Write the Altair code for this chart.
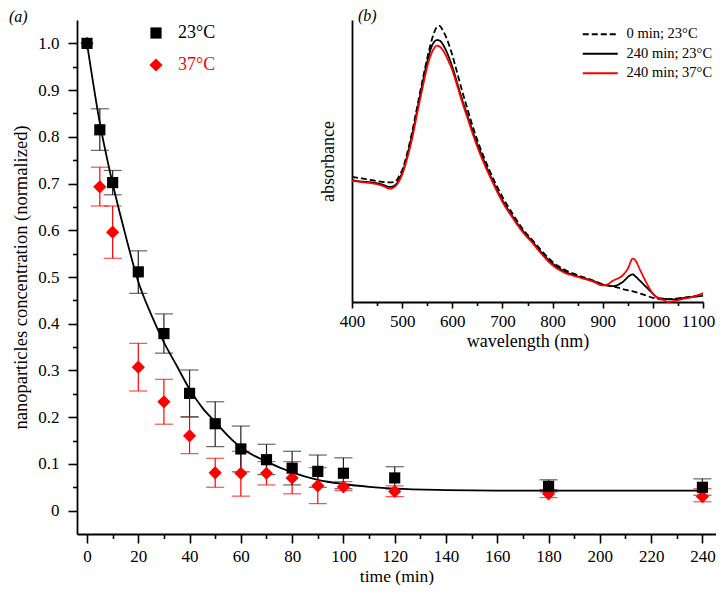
import altair as alt
import pandas as pd

# ---------------- panel (a) data ----------------
times = [0, 5, 10, 20, 30, 40, 50, 60, 70, 80, 90, 100, 120, 180, 240]
conc_23 = [1.0, 0.815, 0.702, 0.511, 0.379, 0.251, 0.186, 0.132, 0.109, 0.091, 0.084, 0.080, 0.070, 0.052, 0.050]
lo_23 = [1.0, 0.771, 0.676, 0.465, 0.337, 0.201, 0.137, 0.083, 0.077, 0.055, 0.050, 0.047, 0.046, 0.040, 0.033]
hi_23 = [1.0, 0.860, 0.728, 0.556, 0.421, 0.301, 0.233, 0.181, 0.142, 0.127, 0.119, 0.113, 0.094, 0.066, 0.068]
conc_37 = [1.0, 0.693, 0.596, 0.307, 0.233, 0.160, 0.081, 0.080, 0.080, 0.070, 0.053, 0.051, 0.041, 0.036, 0.030]
lo_37 = [1.0, 0.652, 0.540, 0.256, 0.185, 0.122, 0.050, 0.031, 0.055, 0.036, 0.015, 0.043, 0.030, 0.028, 0.019]
hi_37 = [1.0, 0.735, 0.652, 0.358, 0.281, 0.200, 0.112, 0.127, 0.105, 0.105, 0.092, 0.062, 0.053, 0.045, 0.047]
series_names = ["23°C", "37°C"]

fit_t = [0, 5, 10, 15, 20, 25, 30, 35, 40, 45, 50, 55, 60, 70, 80, 90, 100, 110, 120, 140, 160, 180, 200, 220, 240]
fit_y = [1.0, 0.83, 0.70, 0.59, 0.49, 0.42, 0.36, 0.31, 0.26, 0.22, 0.19, 0.16, 0.135, 0.105, 0.082, 0.066,
         0.057, 0.051, 0.047, 0.044, 0.043, 0.043, 0.043, 0.043, 0.043]

# ---------------- panel (b) data ----------------
wl_0_23 = [400, 420, 440, 460, 475, 485, 490, 495, 500, 510, 520, 530, 540, 550, 560, 570, 575, 580, 590, 600,
           610, 620, 630, 640, 650, 660, 680, 700, 720, 740, 760, 780, 800, 820, 850, 880, 900, 920, 940, 960,
           980, 1000, 1020, 1040, 1060, 1080, 1100]
abs_0_23 = [0.444, 0.438, 0.432, 0.426, 0.424, 0.426, 0.434, 0.450, 0.467, 0.527, 0.604, 0.692, 0.781, 0.864,
            0.935, 0.976, 0.979, 0.967, 0.929, 0.876, 0.811, 0.746, 0.686, 0.627, 0.574, 0.527, 0.444, 0.373,
            0.314, 0.260, 0.219, 0.178, 0.142, 0.118, 0.095, 0.077, 0.063, 0.056, 0.046, 0.038, 0.027, 0.015,
            0.009, 0.011, 0.015, 0.020, 0.025]
wl_240_23 = [400, 420, 440, 460, 475, 485, 490, 495, 500, 510, 520, 530, 540, 550, 560, 570, 575, 580, 590, 600,
             610, 620, 630, 640, 650, 660, 680, 700, 720, 740, 760, 780, 800, 820, 850, 880, 900, 920, 940, 955,
             960, 965, 980, 1000, 1010, 1020, 1040, 1060, 1080, 1100]
abs_240_23 = [0.432, 0.427, 0.424, 0.417, 0.408, 0.413, 0.422, 0.438, 0.458, 0.517, 0.592, 0.680, 0.769, 0.852,
              0.911, 0.929, 0.927, 0.917, 0.882, 0.834, 0.775, 0.716, 0.663, 0.609, 0.560, 0.515, 0.432, 0.361,
              0.304, 0.254, 0.213, 0.172, 0.136, 0.112, 0.091, 0.075, 0.062, 0.056, 0.071, 0.095, 0.098, 0.091,
              0.065, 0.030, 0.015, 0.012, 0.009, 0.014, 0.018, 0.022]
wl_240_37 = [400, 420, 440, 460, 475, 485, 490, 495, 500, 510, 520, 530, 540, 550, 560, 570, 575, 580, 590, 600,
             610, 620, 630, 640, 650, 660, 680, 700, 720, 740, 760, 780, 800, 820, 850, 880, 900, 910, 920, 940,
             950, 960, 965, 975, 990, 1000, 1010, 1020, 1030, 1040, 1060, 1080, 1100]
abs_240_37 = [0.430, 0.425, 0.421, 0.413, 0.402, 0.408, 0.418, 0.432, 0.452, 0.509, 0.580, 0.669, 0.754, 0.834,
              0.888, 0.909, 0.905, 0.896, 0.864, 0.822, 0.766, 0.707, 0.654, 0.600, 0.550, 0.505, 0.426, 0.355,
              0.299, 0.249, 0.209, 0.166, 0.130, 0.107, 0.089, 0.073, 0.059, 0.063, 0.075, 0.095, 0.118, 0.154,
              0.148, 0.112, 0.059, 0.030, 0.014, 0.008, 0.000, 0.002, 0.011, 0.018, 0.032]
spectra_names = ["0 min; 23°C", "240 min; 23°C", "240 min; 37°C"]

# ---------------- tables ----------------
pts = pd.concat([
    pd.DataFrame({"t": times, "c": conc_37, "lo": lo_37, "hi": hi_37, "temp": series_names[1]}),
    pd.DataFrame({"t": times, "c": conc_23, "lo": lo_23, "hi": hi_23, "temp": series_names[0]}),
], ignore_index=True)
err = pts[pts["t"] > 0]
fit = pd.DataFrame({"t": fit_t, "c": fit_y})
spec = pd.concat([
    pd.DataFrame({"wl": wl_0_23, "a": abs_0_23, "s": spectra_names[0]}),
    pd.DataFrame({"wl": wl_240_23, "a": abs_240_23, "s": spectra_names[1]}),
    pd.DataFrame({"wl": wl_240_37, "a": abs_240_37, "s": spectra_names[2]}),
], ignore_index=True)

W, H = 639, 514
FONT = "Liberation Serif"
xdom = [-3.9, 245.3]
ydom = [-0.05, 1.05]

def xs():
    return alt.Scale(domain=xdom, nice=False, zero=False)

def ys():
    return alt.Scale(domain=ydom, nice=False, zero=False)

AX = dict(labelFont=FONT, titleFont=FONT, grid=False, labelOverlap=False, labelFlush=False)

err_col = alt.Color("temp:N", scale=alt.Scale(domain=series_names, range=["#222222", "#ff0000"]), legend=None)

# error bar stems (carry the minor tick axes)
err_rule = alt.Chart(err).mark_rule(strokeWidth=1.2).encode(
    x=alt.X("t:Q", scale=xs(), axis=alt.Axis(orient="bottom", values=list(range(10, 240, 20)), labels=False,
                                           domain=False, tickSize=4.5, title=None, **AX)),
    y=alt.Y("lo:Q", scale=ys(), axis=alt.Axis(orient="left", values=[round(0.05 + 0.1 * i, 2) for i in range(10)],
                                            labels=False, domain=False, tickSize=4.5, title=None, **AX)),
    y2="hi:Q",
    color=err_col,
)

err_caps = alt.Chart(err).transform_fold(["lo", "hi"], as_=["k", "v"]).mark_tick(
    orient="horizontal", size=18, thickness=1.2
).encode(
    x=alt.X("t:Q", scale=xs(), axis=None),
    y=alt.Y("v:Q", scale=ys(), axis=None),
    color=err_col,
)

fit_line = alt.Chart(fit).mark_line(color="black", strokeWidth=1.8, interpolate="monotone").encode(
    x=alt.X("t:Q", scale=xs(), axis=None),
    y=alt.Y("c:Q", scale=ys(), axis=None),
)

leg_a = dict(title=None, orient="none", legendX=70, legendY=4, padding=0, labelFont=FONT,
             labelFontSize=18, rowPadding=14, labelOffset=13,
             labelColor={"expr": "datum.label == '37°C' ? '#ff0000' : 'black'"})

points = alt.Chart(pts).mark_point(filled=True, opacity=1).encode(
    x=alt.X("t:Q", scale=xs(), axis=alt.Axis(orient="bottom", values=list(range(0, 241, 20)), title="time (min)",
                                           tickSize=9, labelPadding=5, titlePadding=3, labelFontSize=17,
                                           titleFontSize=17.5, **AX)),
    y=alt.Y("c:Q", scale=ys(), axis=alt.Axis(orient="left", values=[round(0.1 * i, 1) for i in range(11)],
                                           labelExpr="datum.value == 0 ? '0' : format(datum.value, '.1f')",
                                           title="nanoparticles concentration (normalized)", titleFontSize=18.5,
                                           labelFontSize=17, tickSize=9, labelPadding=9, titlePadding=7, **AX)),
    color=alt.Color("temp:N", scale=alt.Scale(domain=series_names, range=["black", "#ff0000"]),
                    legend=alt.Legend(**leg_a)),
    shape=alt.Shape("temp:N", scale=alt.Scale(domain=series_names, range=["square", "diamond"]),
                    legend=alt.Legend(**leg_a)),
    size=alt.Size("temp:N", scale=alt.Scale(domain=series_names, range=[125, 175]), legend=None),
)

# inset panel (b): own scales mapped into a sub-rectangle of the plot
def ixs():
    return alt.Scale(domain=[400, 1100], range=[275, 626], nice=False, zero=False)

def iys():
    return alt.Scale(domain=[0, 1], range=[282, 0], nice=False, zero=False)

leg_b = dict(title=None, orient="none", legendX=516, legendY=7, padding=0, labelFont=FONT,
             labelFontSize=14.5, rowPadding=4.5, labelOffset=19,
             symbolType="M-3.5,0H3.5", symbolSize=100, symbolStrokeWidth=2)

spectra = alt.Chart(spec).mark_line(strokeWidth=1.8, interpolate="monotone").encode(
    x=alt.X("wl:Q", scale=ixs(), axis=alt.Axis(orient="bottom", offset=-232, values=list(range(400, 1101, 100)),
                                             format="d", title="wavelength (nm)", tickSize=6, labelPadding=5,
                                             titlePadding=3, labelFontSize=17, titleFontSize=18,
                                             labelOffset={"condition": {"test": "datum.value == 1100", "value": -5},
                                                          "value": 0},
                                             **AX)),
    y=alt.Y("a:Q", scale=iys(), axis=alt.Axis(orient="left", offset=-275, ticks=False, labels=False,
                                            title="absorbance", titlePadding=15, titleFontSize=18, **AX)),
    color=alt.Color("s:N", scale=alt.Scale(domain=spectra_names, range=["black", "black", "#ff0000"]),
                    legend=alt.Legend(**leg_b)),
    strokeDash=alt.StrokeDash("s:N", scale=alt.Scale(domain=spectra_names, range=[[6, 3], [1, 0], [1, 0]]),
                              legend=alt.Legend(**leg_b)),
)

spectra_minor = alt.Chart(spec).mark_point(opacity=0).encode(
    x=alt.X("wl:Q", scale=ixs(), axis=alt.Axis(orient="bottom", offset=-232, values=list(range(450, 1100, 100)),
                                             labels=False, domain=False, tickSize=3.5, title=None, **AX)),
    y=alt.Y("a:Q", scale=iys(), axis=None),
)

label_a = alt.Chart(pd.DataFrame({"txt": ["(a)"]})).mark_text(
    align="left", baseline="middle", fontSize=16, fontStyle="italic", font=FONT, color="black"
).encode(text="txt:N", x=alt.value(-68), y=alt.value(-3))

label_b = alt.Chart(pd.DataFrame({"txt": ["(b)"]})).mark_text(
    align="left", baseline="middle", fontSize=16, fontStyle="italic", font=FONT, color="black"
).encode(text="txt:N", x=alt.value(281), y=alt.value(-4))

chart = alt.layer(
    err_rule, err_caps, fit_line, points, spectra, spectra_minor, label_a, label_b
).resolve_scale(
    x="independent", y="independent", color="independent", shape="independent",
    size="independent", strokeDash="independent"
).properties(
    width=W, height=H,
    padding={"left": 69, "top": 12, "right": 0, "bottom": 51},
    autosize=alt.AutoSizeParams(type="none"),
).configure(
    font=FONT
).configure_view(
    stroke=None
).configure_text(
    font=FONT
).configure_axis(
    labelFont=FONT, titleFont=FONT, labelFontSize=17, titleFontSize=18, titleFontWeight="normal",
    labelColor="black", titleColor="black", domainColor="black", tickColor="black",
    domainWidth=1.8, tickWidth=1.6
).configure_legend(
    labelFont=FONT, labelColor="black"
)

chart.save("out.html", embed_options={"renderer": "svg", "actions": False})
